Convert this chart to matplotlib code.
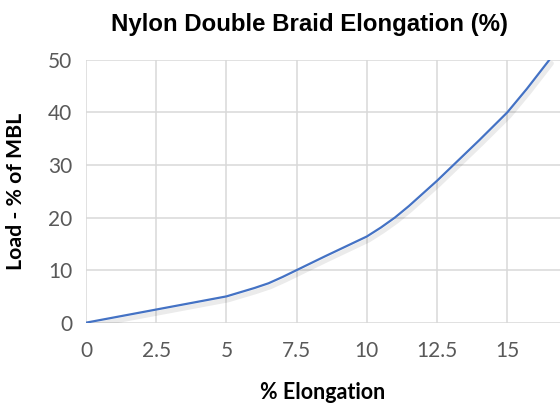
import matplotlib.pyplot as plt
import matplotlib.patheffects as pe

# data
elongation = [0, 1, 2.5, 4, 5, 6, 6.5, 7, 7.5, 8.5, 10, 10.5, 11, 11.5, 12.5, 14, 15, 15.7, 16.5]
load_pct = [0, 1, 2.5, 4, 5, 6.6, 7.5, 8.7, 10, 12.6, 16.4, 18.1, 20, 22.2, 27, 34.7, 40, 44.5, 50]
x_ticks = [0, 2.5, 5, 7.5, 10, 12.5, 15]
x_labels = ["0", "2.5", "5", "7.5", "10", "12.5", "15"]
y_ticks = [0, 10, 20, 30, 40, 50]

fig = plt.figure(figsize=(5.6, 4.03), dpi=100)
ax = fig.add_axes([0.1536, 0.1993, 0.8464, 0.652])

ax.plot(elongation, load_pct, color="#4472C4", linewidth=1.6, solid_capstyle="round",
        solid_joinstyle="round",
        path_effects=[pe.SimpleLineShadow(offset=(1.5, -2.5), shadow_color="#000000", alpha=0.08,
                                          linewidth=3.5),
                      pe.Normal()], zorder=3)

ax.set_xlim(0, 16.88)
ax.set_ylim(0, 50)
ax.set_xticks(x_ticks)
ax.set_xticklabels(x_labels)
ax.set_yticks(y_ticks)
ax.grid(True, color="#D9D9D9", linewidth=1.1)
ax.set_axisbelow(True)
for s in ax.spines.values():
    s.set_visible(False)
ax.tick_params(length=0, labelsize=15, labelcolor="#595959", pad=13)
ax.tick_params(axis="y", pad=10)
for lbl in ax.get_xticklabels() + ax.get_yticklabels():
    lbl.set_family("Lato")

ax.set_xlabel("% Elongation", fontsize=15.5, fontweight="bold", family="Lato", labelpad=15)
ax.set_ylabel("Load - % of MBL", fontsize=15.3, fontweight="bold", family="Lato", labelpad=16)
fig.text(0.553, 0.938, "Nylon Double Braid Elongation (%)", ha="center", va="center",
         fontsize=17.3, fontweight="bold", family="Liberation Sans")

fig.savefig("out.png", dpi=100)
